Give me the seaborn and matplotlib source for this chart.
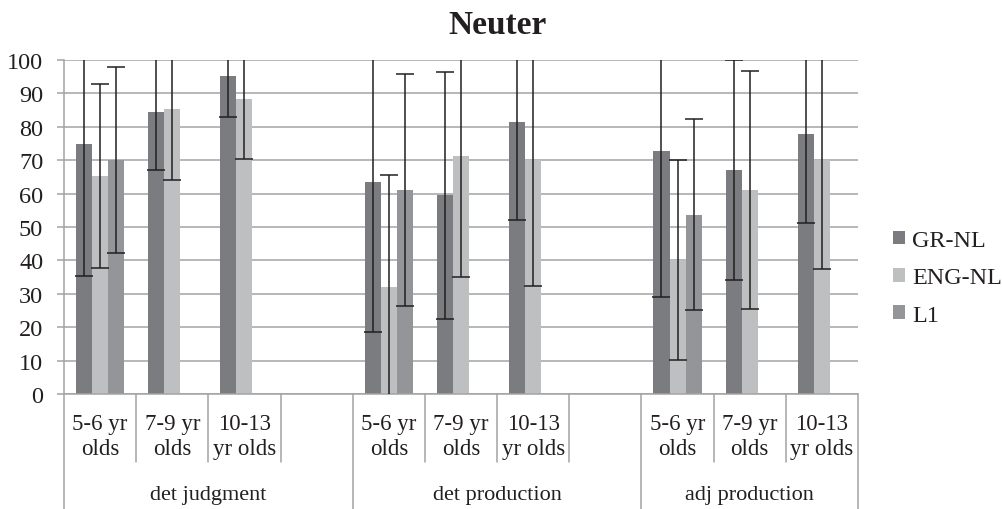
import numpy as np
import pandas as pd
import matplotlib
matplotlib.use("Agg")
import matplotlib.pyplot as plt
from matplotlib.lines import Line2D
import matplotlib.transforms as mtransforms
import seaborn as sns

# Data
slot_keys = ["dj_5-6", "dj_7-9", "dj_10-13", "gap1",
             "dp_5-6", "dp_7-9", "dp_10-13", "gap2",
             "ap_5-6", "ap_7-9", "ap_10-13"]
slot_labels = ["5-6 yr\nolds", "7-9 yr\nolds", "10-13\nyr olds", "",
               "5-6 yr\nolds", "7-9 yr\nolds", "10-13\nyr olds", "",
               "5-6 yr\nolds", "7-9 yr\nolds", "10-13\nyr olds"]
data_slots = ["dj_5-6", "dj_7-9", "dj_10-13",
              "dp_5-6", "dp_7-9", "dp_10-13",
              "ap_5-6", "ap_7-9", "ap_10-13"]
task_labels = ["det judgment", "det production", "adj production"]

groups = ["GR-NL", "ENG-NL", "L1"]
gr_nl = [75.0, 84.5, 95.3, 63.4, 59.5, 81.4, 72.9, 67.0, 77.8]
gr_nl_err = [39.8, 17.5, 12.4, 44.8, 37.0, 29.3, 43.9, 33.0, 26.6]
eng_nl = [65.3, 85.2, 88.4, 31.9, 71.4, 70.1, 40.2, 61.1, 70.2]
eng_nl_err = [27.5, 21.0, 18.1, 33.7, 36.4, 37.9, 29.9, 35.6, 32.7]
l1 = [70.0, np.nan, np.nan, 61.1, np.nan, np.nan, 53.7, np.nan, np.nan]
l1_err = [27.9, np.nan, np.nan, 34.7, np.nan, np.nan, 28.5, np.nan, np.nan]

colors = ["#7b7c80", "#bebfc1", "#949599"]

rows = []
for g, vals, errs in zip(groups, [gr_nl, eng_nl, l1], [gr_nl_err, eng_nl_err, l1_err]):
    for s, v, e in zip(data_slots, vals, errs):
        rows.append({"slot": s, "group": g, "value": v, "err": e})
df = pd.DataFrame(rows)
err_lookup = {(r.group, slot_keys.index(r.slot)): r.err for r in df.itertuples()}

sns.set_style("white")
plt.rcParams["font.family"] = ["Liberation Serif", "DejaVu Serif"]

fig = plt.figure(figsize=(10.03, 5.10), dpi=100)
ax = fig.add_axes([64 / 1003, 1 - 395 / 510, (858 - 64) / 1003, (395 - 61) / 510])

sns.barplot(data=df.dropna(subset=["value"]), x="slot", y="value", hue="group",
            order=slot_keys, hue_order=groups, palette=colors,
            width=0.667, gap=0, errorbar=None, saturation=1,
            edgecolor="none", linewidth=0, ax=ax, legend=True)

# error bars at each bar's centre
for cont, g in zip(ax.containers, groups):
    for bar in cont:
        h = bar.get_height()
        if np.isnan(h):
            continue
        xc = bar.get_x() + bar.get_width() / 2
        e = err_lookup.get((g, int(round(xc))))
        if e is None or np.isnan(e):
            continue
        ax.errorbar(xc, h, yerr=e, fmt="none", ecolor="#231f20",
                    elinewidth=1.1, capsize=6.5, capthick=1.1, zorder=5)

ax.set_xlim(-0.5, len(slot_keys) - 0.5)
ax.set_ylim(0, 100)
ax.set_yticks(range(0, 101, 10))
ax.grid(axis="y", color="#a3a3a3", linewidth=1.1)
ax.set_axisbelow(True)
for sp in ["top", "right"]:
    ax.spines[sp].set_visible(False)
for sp in ["left", "bottom"]:
    ax.spines[sp].set_color("#a3a3a3")
    ax.spines[sp].set_linewidth(1.1)
ax.tick_params(axis="y", length=5, width=1.1, color="#a3a3a3", pad=10,
               labelsize=17.5, labelcolor="#231f20", left=True)
ax.set_xticks(range(len(slot_keys)))
ax.set_xticklabels(slot_labels, fontsize=16.5, color="#231f20", linespacing=1.25)
ax.tick_params(axis="x", length=0, pad=14)
ax.set_xlabel("")
ax.set_ylabel("")

# category separators below the axis
trans = mtransforms.blended_transform_factory(ax.transData, ax.transAxes)
group_bounds = [-0.5, 3.5, 7.5, 10.5]
for i in range(len(slot_keys) + 1):
    xb = i - 0.5
    y_end = -0.344 if xb in group_bounds else -0.204
    ax.add_line(Line2D([xb, xb], [0, y_end], transform=trans, color="#a3a3a3",
                       linewidth=1.1, clip_on=False))
task_centres = [1.5, 5.5, 9.0]
for xc, lab in zip(task_centres, task_labels):
    ax.text(xc, -0.3, lab, transform=trans, ha="center", va="center",
            fontsize=16, color="#231f20")

fig.text(498 / 1003, 1 - 25 / 510, "Neuter", ha="center", va="center",
         fontsize=24, fontweight="bold", color="#231f20")

handles = [plt.Rectangle((0, 0), 1, 1, facecolor=c, edgecolor="none") for c in colors]
ax.legend(handles, groups, loc="center left", bbox_to_anchor=(893 / 1003, 1 - 279 / 510),
          bbox_transform=fig.transFigure, frameon=False, fontsize=17.4,
          handlelength=0.5, handleheight=0.5, handletextpad=0.3,
          labelspacing=0.68, borderpad=0, borderaxespad=0, labelcolor="#231f20")

fig.savefig("out.png", dpi=100)
